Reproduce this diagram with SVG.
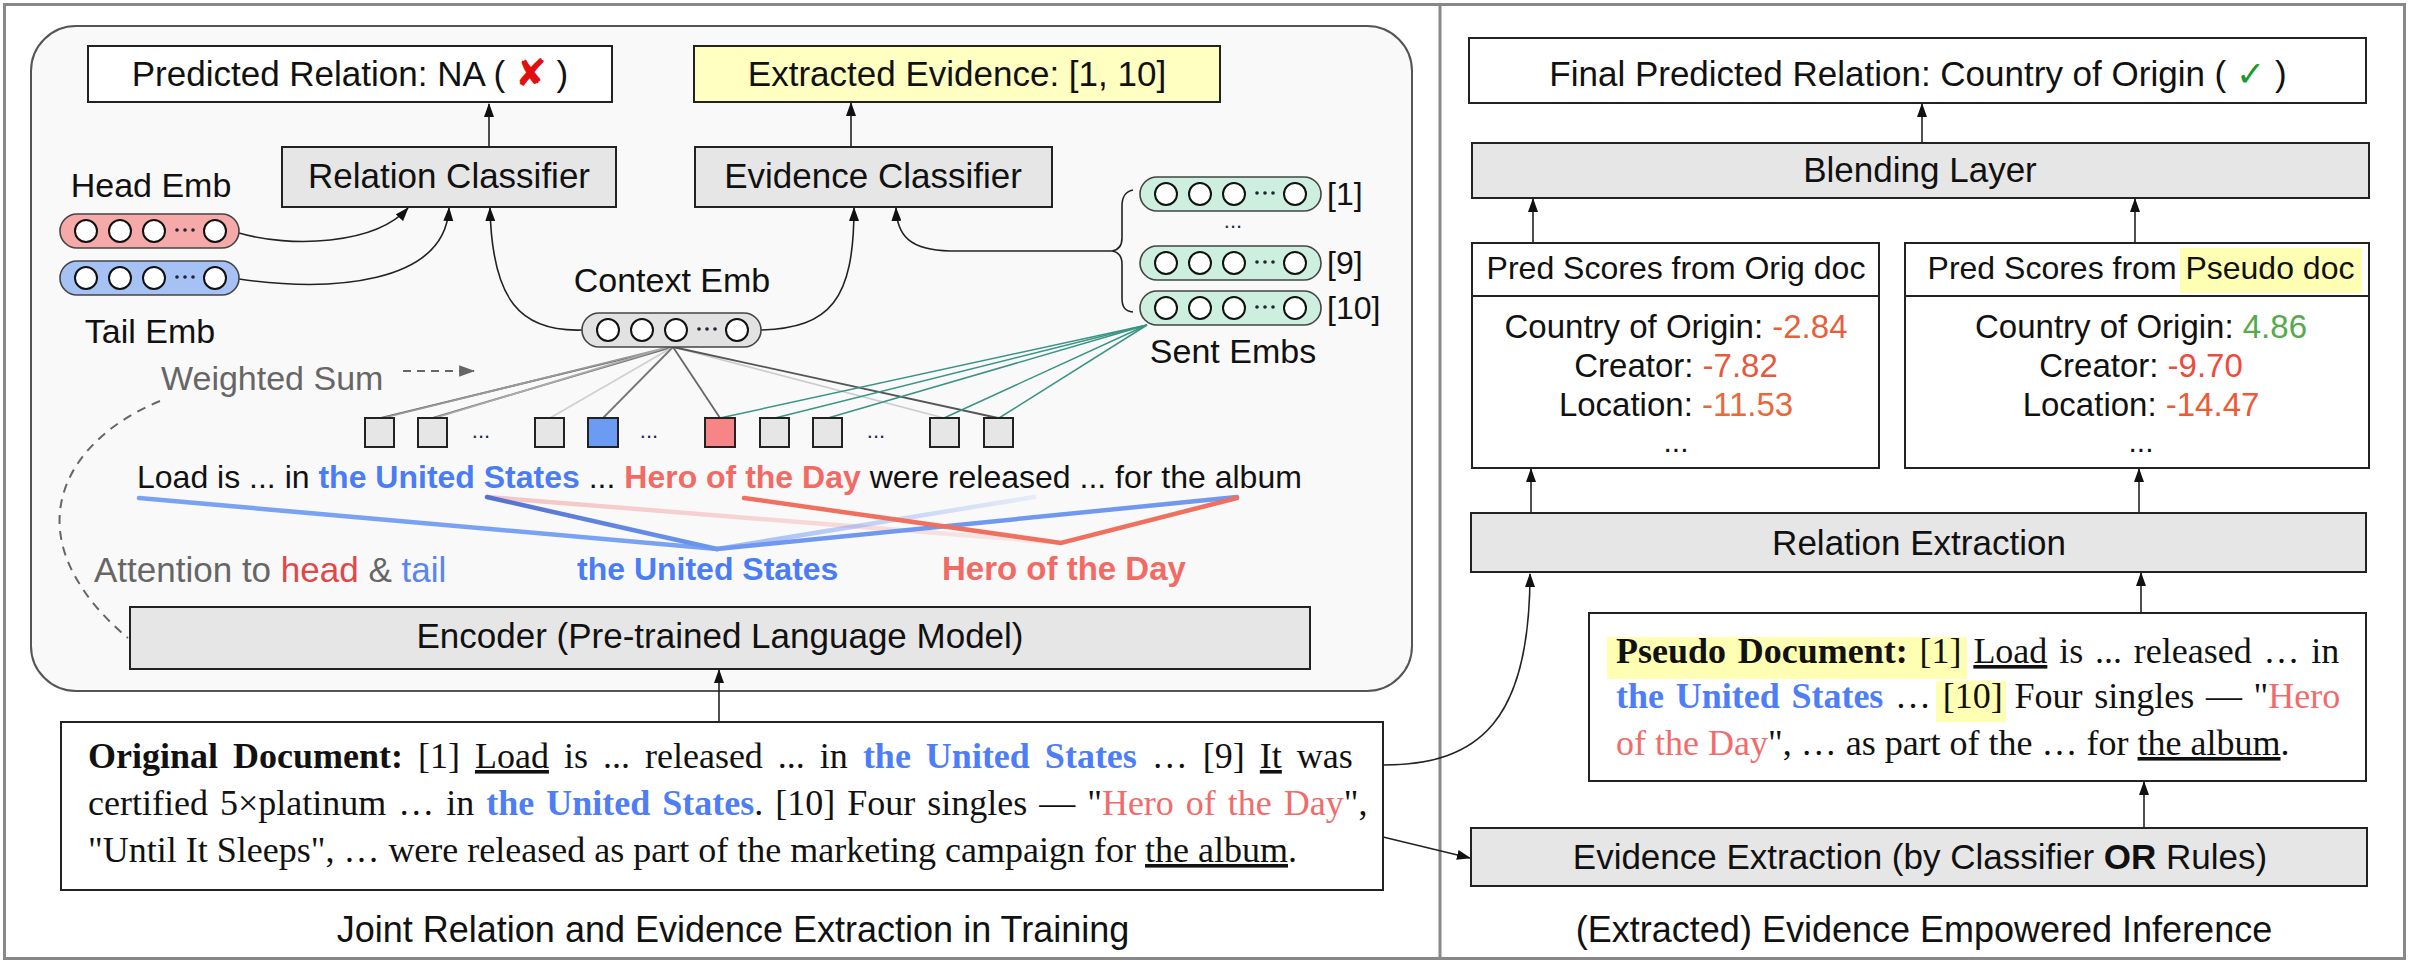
<svg xmlns="http://www.w3.org/2000/svg" width="2410" height="963" viewBox="0 0 2410 963">
<style>
.s{font-family:"Liberation Sans",Arial,sans-serif;fill:#111}
.t{font-family:"Liberation Serif","Times New Roman",serif;fill:#111;font-size:36px}
.lbl{font-size:35px;text-anchor:middle}
.box{stroke:#222;stroke-width:2}
.wh{fill:#fff}
.gr{fill:#e6e6e6}
.conn{fill:none;stroke:#222;stroke-width:1.6}
.pill{stroke:#444;stroke-width:1.6}
.cir{fill:#fff;stroke:#111;stroke-width:2}
.tok{stroke:#222;stroke-width:2}
.blue{fill:#4d7ef7;font-weight:bold}
.red{fill:#f26b6b}
.dots{font-family:"Liberation Sans",Arial,sans-serif;font-size:22px;fill:#1a2a5a;text-anchor:middle}
.gl{stroke-width:1.8;fill:none}
.teal{stroke:#3a9484;stroke-width:1.5;fill:none}
.att{stroke-width:4.5;fill:none;stroke-linecap:round}
</style>
<defs>
<marker id="ah" viewBox="0 0 14 10" refX="13" refY="5" markerWidth="14" markerHeight="10" markerUnits="userSpaceOnUse" orient="auto"><path d="M0,0 L14,5 L0,10 z" fill="#111"/></marker>
<marker id="ahg" viewBox="0 0 14 10" refX="13" refY="5" markerWidth="16" markerHeight="12" markerUnits="userSpaceOnUse" orient="auto"><path d="M0,0 L14,5 L0,10 z" fill="#666"/></marker>
<g id="circs">
<circle class="cir" cx="26" cy="0" r="11"/>
<circle class="cir" cx="60" cy="0" r="11"/>
<circle class="cir" cx="94" cy="0" r="11"/>
<circle cx="117" cy="-1" r="1.8" fill="#223"/>
<circle cx="125" cy="-1" r="1.8" fill="#223"/>
<circle cx="133" cy="-1" r="1.8" fill="#223"/>
<circle class="cir" cx="155" cy="0" r="11"/>
</g>
<linearGradient id="gBlueFade" gradientUnits="userSpaceOnUse" x1="717" y1="549" x2="1034" y2="497">
<stop offset="0" stop-color="#7aa0f0" stop-opacity="0.7"/>
<stop offset="1" stop-color="#7aa0f0" stop-opacity="0.15"/>
</linearGradient>
<linearGradient id="gPinkFade" gradientUnits="userSpaceOnUse" x1="487" y1="497" x2="1061" y2="543">
<stop offset="0" stop-color="#f4a0a0" stop-opacity="0.6"/>
<stop offset="1" stop-color="#f4a0a0" stop-opacity="0.2"/>
</linearGradient>
<linearGradient id="gBlueStates" gradientUnits="userSpaceOnUse" x1="487" y1="497" x2="717" y2="549">
<stop offset="0" stop-color="#5570d0"/>
<stop offset="1" stop-color="#6a98f0"/>
</linearGradient>
</defs>

<!-- frame -->
<rect x="4.5" y="4.5" width="2400" height="954" fill="#fff" stroke="#888" stroke-width="3"/>
<line x1="1440" y1="4" x2="1440" y2="959" stroke="#888" stroke-width="3"/>

<!-- left panel -->
<g id="panel-training">
<rect x="31" y="26" width="1381" height="665" rx="45" ry="45" fill="#f9f9f9" stroke="#555" stroke-width="2"/>
</g>

<!-- connectors -->
<g id="connectors">
<path class="conn" d="M489,147 L489,104" marker-end="url(#ah)"/>
<path class="conn" d="M851,147 L851,103" marker-end="url(#ah)"/>
<path class="conn" d="M239,233 C290,248 375,245 408,208" marker-end="url(#ah)"/>
<path class="conn" d="M239,279 C330,292 445,285 449,208" marker-end="url(#ah)"/>
<path class="conn" d="M582,330 C520,332 492,300 490,208" marker-end="url(#ah)"/>
<path class="conn" d="M761,330 C830,328 854,300 854,208" marker-end="url(#ah)"/>
<path class="conn" d="M1112,251 L950,251 C910,250 897,236 896,208" marker-end="url(#ah)"/>
<path class="conn" d="M1133,190 C1124,192 1122,198 1122,206 L1122,238 C1122,246 1118,250 1112,251 C1118,252 1122,256 1122,264 L1122,298 C1122,306 1124,311 1133,312"/>
<path class="conn" d="M719,722 L719,670" marker-end="url(#ah)"/>
<path class="conn" d="M1383,765 C1480,765 1530,720 1530,574" marker-end="url(#ah)"/>
<path class="conn" d="M1383,837 L1470,858" marker-end="url(#ah)"/>
<path class="conn" d="M2144,828 L2144,782" marker-end="url(#ah)"/>
<path class="conn" d="M2141,613 L2141,573" marker-end="url(#ah)"/>
<path class="conn" d="M1531,513 L1531,469" marker-end="url(#ah)"/>
<path class="conn" d="M2139,513 L2139,469" marker-end="url(#ah)"/>
<path class="conn" d="M1533,243 L1533,199" marker-end="url(#ah)"/>
<path class="conn" d="M2135,243 L2135,199" marker-end="url(#ah)"/>
<path class="conn" d="M1922,143 L1922,104" marker-end="url(#ah)"/>
<path d="M403,371 L474,371" fill="none" stroke="#666" stroke-width="2" stroke-dasharray="8,6" marker-end="url(#ahg)"/>
<path d="M160,401 C90,430 55,480 60,530 C64,575 100,615 128,638" fill="none" stroke="#666" stroke-width="2" stroke-dasharray="9,7"/>
<!-- attention weight lines -->
<path class="gl" d="M673,347 L380,418" stroke="#666"/>
<path class="gl" d="M669,347 L383,418" stroke="#999" stroke-width="1.3"/>
<path class="gl" d="M673,347 L432,418" stroke="#777"/>
<path class="gl" d="M668,347 L435,418" stroke="#aaa" stroke-width="1.3"/>
<path class="gl" d="M673,347 L550,418" stroke="#d0d0d0" stroke-width="1.3"/>
<path class="gl" d="M673,347 L603,418" stroke="#777"/>
<path class="gl" d="M673,347 L720,418" stroke="#666"/>
<path class="gl" d="M673,347 L944,418" stroke="#ccc"/>
<path class="gl" d="M673,347 L998,418" stroke="#555" stroke-width="2.2"/>
<path class="teal" d="M1147,325 L720,418"/>
<path class="teal" d="M1147,325 L775,418"/>
<path class="teal" d="M1147,325 L828,418"/>
<path class="teal" d="M1147,325 L944,418"/>
<path class="teal" d="M1147,325 L999,418"/>
<!-- attention to head and tail -->
<path class="att" d="M487,497 L1061,543" stroke="url(#gPinkFade)"/>
<path class="att" d="M717,549 L1034,497" stroke="url(#gBlueFade)"/>
<path class="att" d="M139,498 L717,549" stroke="#7aa2f2"/>
<path class="att" d="M487,497 L717,549" stroke="url(#gBlueStates)"/>
<path class="att" d="M717,549 L1237,497" stroke="#6f98ee"/>
<path class="att" d="M744,498 L1061,543 L1237,498" stroke="#f0705f" stroke-width="3.5"/>
</g>

<!-- left nodes -->
<g id="pred-relation">
<rect class="box wh" x="88" y="46" width="524" height="56"/>
<text class="s lbl" x="350" y="86">Predicted Relation: NA ( <tspan font-family="DejaVu Sans" font-weight="bold" font-size="38" fill="#e01010">✘</tspan> )</text>
</g>
<g id="extracted-evidence">
<rect class="box" x="694" y="46" width="526" height="56" fill="#ffffc2"/>
<text class="s lbl" x="957" y="86">Extracted Evidence: [1, 10]</text>
</g>
<g id="relation-classifier">
<rect class="box gr" x="282" y="147" width="334" height="60"/>
<text class="s lbl" x="449" y="188">Relation Classifier</text>
</g>
<g id="evidence-classifier">
<rect class="box gr" x="695" y="147" width="357" height="60"/>
<text class="s lbl" x="873" y="188">Evidence Classifier</text>
</g>
<g id="head-emb">
<text class="s" x="151" y="197" font-size="34" text-anchor="middle">Head Emb</text>
<rect class="pill" x="60" y="214" width="179" height="34" rx="17" fill="#f6a9a9"/>
<use href="#circs" transform="translate(60,231)"/>
</g>
<g id="tail-emb">
<rect class="pill" x="60" y="261" width="179" height="34" rx="17" fill="#a6c1f3"/>
<use href="#circs" transform="translate(60,278)"/>
<text class="s" x="150" y="343" font-size="34" text-anchor="middle">Tail Emb</text>
</g>
<g id="context-emb">
<text class="s" x="672" y="292" font-size="34" text-anchor="middle">Context Emb</text>
<rect class="pill" x="582" y="313" width="179" height="34" rx="17" fill="#e2e2e2"/>
<use href="#circs" transform="translate(582,330)"/>
</g>
<g id="sent-embs">
<rect class="pill" x="1140" y="177" width="181" height="34" rx="17" fill="#cdefe0"/>
<use href="#circs" transform="translate(1140,194)"/>
<text class="dots" x="1233" y="228">...</text>
<rect class="pill" x="1140" y="246" width="181" height="34" rx="17" fill="#cdefe0"/>
<use href="#circs" transform="translate(1140,263)"/>
<rect class="pill" x="1140" y="291" width="181" height="34" rx="17" fill="#cdefe0"/>
<use href="#circs" transform="translate(1140,308)"/>
<text class="s" x="1327" y="205" font-size="32">[1]</text>
<text class="s" x="1327" y="274" font-size="32">[9]</text>
<text class="s" x="1327" y="319" font-size="32">[10]</text>
<text class="s" x="1233" y="363" font-size="34" text-anchor="middle">Sent Embs</text>
</g>
<g id="weighted-sum">
<text class="s" x="161" y="390" font-size="34" style="fill:#666">Weighted Sum</text>
</g>
<g id="tokens">
<rect class="tok gr" x="365" y="418" width="29" height="29"/>
<rect class="tok gr" x="418" y="418" width="29" height="29"/>
<text class="dots" x="481" y="438">...</text>
<rect class="tok gr" x="535" y="418" width="29" height="29"/>
<rect class="tok" x="588" y="418" width="30" height="29" fill="#6b9bf2"/>
<text class="dots" x="649" y="438">...</text>
<rect class="tok" x="705" y="418" width="30" height="29" fill="#f78585"/>
<rect class="tok gr" x="760" y="418" width="29" height="29"/>
<rect class="tok gr" x="813" y="418" width="29" height="29"/>
<text class="dots" x="876" y="438">...</text>
<rect class="tok gr" x="930" y="418" width="29" height="29"/>
<rect class="tok gr" x="984" y="418" width="29" height="29"/>
</g>
<g id="sentence">
<text class="s" x="137" y="488" font-size="32">Load is ... in <tspan font-weight="bold" fill="#4a7cf5">the United States</tspan> ... <tspan font-weight="bold" fill="#f26a64">Hero of the Day</tspan> were released ... for the album</text>
</g>
<g id="attention-label">
<text class="s" x="94" y="582" font-size="35" style="fill:#666">Attention to <tspan fill="#e04848">head</tspan> &amp; <tspan fill="#5a84ee">tail</tspan></text>
<text class="s" x="577" y="580" font-size="32" font-weight="bold" style="fill:#4a7cf5">the United States</text>
<text class="s" x="942" y="580" font-size="33" font-weight="bold" style="fill:#f26a64">Hero of the Day</text>
</g>
<g id="encoder">
<rect class="box gr" x="130" y="607" width="1180" height="62"/>
<text class="s lbl" x="720" y="648">Encoder (Pre-trained Language Model)</text>
</g>
<g id="original-document">
<rect class="box wh" x="61" y="722" width="1322" height="168"/>
<text class="t" x="88" y="768" word-spacing="6"><tspan font-weight="bold">Original Document:</tspan> [1] <tspan text-decoration="underline">Load</tspan> is ... released ... in <tspan class="blue">the United States</tspan> … [9] <tspan text-decoration="underline">It</tspan> was</text>
<text class="t" x="88" y="815" word-spacing="3">certified 5×platinum … in <tspan class="blue">the United States</tspan>. [10] Four singles — "<tspan class="red">Hero of the Day</tspan>",</text>
<text class="t" x="88" y="862">"Until It Sleeps", … were released as part of the marketing campaign for <tspan text-decoration="underline">the album</tspan>.</text>
</g>
<g id="caption-left">
<text class="s" x="733" y="942" font-size="36" text-anchor="middle">Joint Relation and Evidence Extraction in Training</text>
</g>

<!-- right nodes -->
<g id="final-relation">
<rect class="box wh" x="1469" y="38" width="897" height="65"/>
<text class="s lbl" x="1918" y="86">Final Predicted Relation: Country of Origin ( <tspan font-family="DejaVu Sans" font-weight="bold" fill="#1a9a2a">✓</tspan> )</text>
</g>
<g id="blending-layer">
<rect class="box gr" x="1472" y="143" width="897" height="55"/>
<text class="s lbl" x="1920" y="182">Blending Layer</text>
</g>
<g id="pred-orig">
<rect class="box wh" x="1472" y="243" width="407" height="225"/>
<line x1="1472" y1="296" x2="1879" y2="296" stroke="#222" stroke-width="2"/>
<text class="s" x="1676" y="279" font-size="32" text-anchor="middle">Pred Scores from Orig doc</text>
<text class="s" x="1676" y="338" font-size="33" text-anchor="middle">Country of Origin: <tspan fill="#e8603a">-2.84</tspan></text>
<text class="s" x="1676" y="377" font-size="33" text-anchor="middle">Creator: <tspan fill="#e8583a">-7.82</tspan></text>
<text class="s" x="1676" y="416" font-size="33" text-anchor="middle">Location: <tspan fill="#e8683a">-11.53</tspan></text>
<text class="s" x="1676" y="452" font-size="30" text-anchor="middle">...</text>
</g>
<g id="pred-pseudo">
<rect class="box wh" x="1905" y="243" width="464" height="225"/>
<rect x="2180" y="248" width="182" height="45" fill="#ffffb3"/>
<line x1="1905" y1="296" x2="2369" y2="296" stroke="#222" stroke-width="2"/>
<text class="s" x="2141" y="279" font-size="32" text-anchor="middle">Pred Scores from Pseudo doc</text>
<text class="s" x="2141" y="338" font-size="33" text-anchor="middle">Country of Origin: <tspan fill="#55aa4a">4.86</tspan></text>
<text class="s" x="2141" y="377" font-size="33" text-anchor="middle">Creator: <tspan fill="#f04a3c">-9.70</tspan></text>
<text class="s" x="2141" y="416" font-size="33" text-anchor="middle">Location: <tspan fill="#ee5a34">-14.47</tspan></text>
<text class="s" x="2141" y="452" font-size="30" text-anchor="middle">...</text>
</g>
<g id="relation-extraction">
<rect class="box gr" x="1471" y="513" width="895" height="59"/>
<text class="s lbl" x="1919" y="555">Relation Extraction</text>
</g>
<g id="pseudo-document">
<rect class="box wh" x="1589" y="613" width="777" height="168"/>
<rect x="1607" y="637" width="360" height="42" fill="#ffffb3"/>
<rect x="1936" y="681" width="70" height="41" fill="#ffffb3"/>
<text class="t" x="1616" y="663" word-spacing="2.8"><tspan font-weight="bold">Pseudo Document:</tspan> [1] <tspan text-decoration="underline">Load</tspan> is ... released … in</text>
<text class="t" x="1616" y="708" word-spacing="2.7"><tspan class="blue">the United States</tspan> … [10] Four singles — "<tspan class="red">Hero</tspan></text>
<text class="t" x="1616" y="755"><tspan class="red">of the Day</tspan>", … as part of the … for <tspan text-decoration="underline">the album</tspan>.</text>
</g>
<g id="evidence-extraction">
<rect class="box gr" x="1471" y="828" width="896" height="58"/>
<text class="s lbl" x="1920" y="869">Evidence Extraction (by Classifier <tspan font-weight="bold">OR</tspan> Rules)</text>
</g>
<g id="caption-right">
<text class="s" x="1924" y="942" font-size="36" text-anchor="middle">(Extracted) Evidence Empowered Inference</text>
</g>
</svg>
